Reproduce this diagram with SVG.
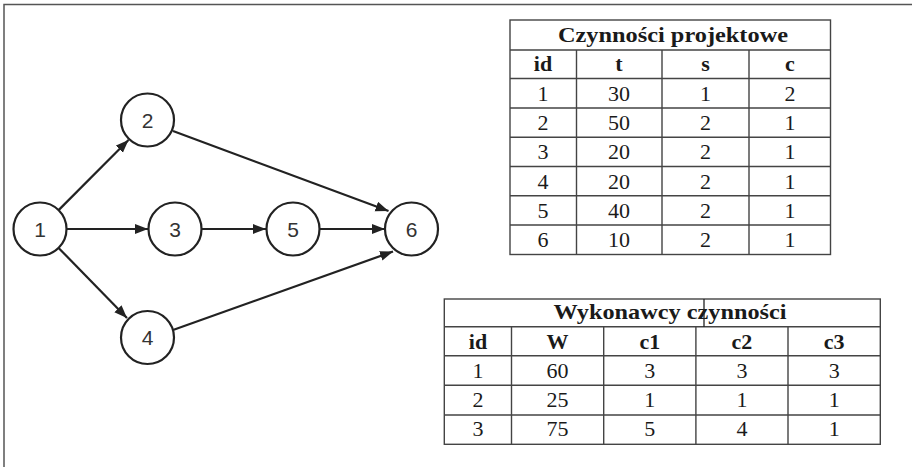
<svg xmlns="http://www.w3.org/2000/svg" width="912" height="467" viewBox="0 0 912 467">
<style>
.frame{fill:none;stroke:#555;stroke-width:1.5}
.node circle{fill:#fff;stroke:#222;stroke-width:2.2}
.node text{font-family:"Liberation Sans",Arial,sans-serif;font-size:21px;fill:#333;text-anchor:middle}
.edge{stroke:#222;stroke-width:2.2;fill:none}
.grid{stroke:#444;stroke-width:1.4;fill:none}
.tt{font-family:"Liberation Serif","Times New Roman",serif;font-size:22px;fill:#1a1a1a;text-anchor:middle}
.b{font-weight:bold}
</style>
<defs>
<marker id="arr" markerUnits="userSpaceOnUse" markerWidth="14" markerHeight="12" refX="13" refY="5" orient="auto">
<path d="M0,0 L13,5 L0,10 z" fill="#222"/>
</marker>
</defs>
<rect width="912" height="467" fill="#fff"/>
<path class="frame" d="M4,467 V4.5 H912"/>

<g id="connectors">
<line class="edge" x1="58.6" y1="210.1" x2="128.5" y2="140" marker-end="url(#arr)"/>
<line class="edge" x1="66.5" y1="229" x2="148" y2="229" marker-end="url(#arr)"/>
<line class="edge" x1="58.6" y1="247.9" x2="127" y2="318" marker-end="url(#arr)"/>
<line class="edge" x1="201.5" y1="229" x2="266" y2="229" marker-end="url(#arr)"/>
<line class="edge" x1="319.5" y1="229" x2="385" y2="229" marker-end="url(#arr)"/>
<line class="edge" x1="173" y1="131" x2="388.5" y2="211" marker-end="url(#arr)"/>
<line class="edge" x1="173" y1="330" x2="393" y2="251.5" marker-end="url(#arr)"/>
</g>

<g id="node1" class="node"><circle cx="40" cy="229" r="26.5"/><text x="40" y="236.5">1</text></g>
<g id="node2" class="node"><circle cx="147.5" cy="120" r="26.5"/><text x="147.5" y="127.5">2</text></g>
<g id="node3" class="node"><circle cx="175" cy="229" r="26.5"/><text x="175" y="236.5">3</text></g>
<g id="node5" class="node"><circle cx="293" cy="229" r="26.5"/><text x="293" y="236.5">5</text></g>
<g id="node6" class="node"><circle cx="411.5" cy="229" r="26.5"/><text x="411.5" y="236.5">6</text></g>
<g id="node4" class="node"><circle cx="147.5" cy="337.5" r="26.5"/><text x="147.5" y="345">4</text></g>

<g id="table1">
<rect class="grid" x="510" y="20" width="320.5" height="234.5"/>
<path class="grid" d="M510,50 H830.5 M510,78.5 H830.5 M510,108 H830.5 M510,137.3 H830.5 M510,166.5 H830.5 M510,195.8 H830.5 M510,225 H830.5 M576.5,50 V254.5 M662,50 V254.5 M749,50 V254.5"/>
<text class="tt b" x="673" y="42" textLength="230" lengthAdjust="spacingAndGlyphs">Czynności projektowe</text>
<text class="tt b" x="543" y="71">id</text><text class="tt b" x="619" y="71">t</text><text class="tt b" x="705.5" y="71">s</text><text class="tt b" x="790" y="71">c</text>
<text class="tt" x="543" y="100.5">1</text><text class="tt" x="619" y="100.5">30</text><text class="tt" x="705.5" y="100.5">1</text><text class="tt" x="790" y="100.5">2</text>
<text class="tt" x="543" y="130">2</text><text class="tt" x="619" y="130">50</text><text class="tt" x="705.5" y="130">2</text><text class="tt" x="790" y="130">1</text>
<text class="tt" x="543" y="159.3">3</text><text class="tt" x="619" y="159.3">20</text><text class="tt" x="705.5" y="159.3">2</text><text class="tt" x="790" y="159.3">1</text>
<text class="tt" x="543" y="188.5">4</text><text class="tt" x="619" y="188.5">20</text><text class="tt" x="705.5" y="188.5">2</text><text class="tt" x="790" y="188.5">1</text>
<text class="tt" x="543" y="217.8">5</text><text class="tt" x="619" y="217.8">40</text><text class="tt" x="705.5" y="217.8">2</text><text class="tt" x="790" y="217.8">1</text>
<text class="tt" x="543" y="247">6</text><text class="tt" x="619" y="247">10</text><text class="tt" x="705.5" y="247">2</text><text class="tt" x="790" y="247">1</text>
</g>

<g id="table2">
<rect class="grid" x="444.3" y="299" width="436" height="145.3"/>
<path class="grid" d="M444.3,326.7 H880.3 M444.3,355.7 H880.3 M444.3,385.3 H880.3 M444.3,415 H880.3 M511.5,326.7 V444.3 M603.7,326.7 V444.3 M695.9,326.7 V444.3 M788,326.7 V444.3"/>
<text class="tt b" x="670" y="319.3" textLength="233" lengthAdjust="spacingAndGlyphs">Wykonawcy czynności</text>
<line x1="704" y1="299" x2="704" y2="327" stroke="#222" stroke-width="1.3"/>
<text class="tt b" x="478" y="348.5">id</text><text class="tt b" x="557.6" y="348.5">W</text><text class="tt b" x="649.8" y="348.5">c1</text><text class="tt b" x="742" y="348.5">c2</text><text class="tt b" x="834.2" y="348.5">c3</text>
<text class="tt" x="478" y="377.8">1</text><text class="tt" x="557.6" y="377.8">60</text><text class="tt" x="649.8" y="377.8">3</text><text class="tt" x="742" y="377.8">3</text><text class="tt" x="834.2" y="377.8">3</text>
<text class="tt" x="478" y="407.2">2</text><text class="tt" x="557.6" y="407.2">25</text><text class="tt" x="649.8" y="407.2">1</text><text class="tt" x="742" y="407.2">1</text><text class="tt" x="834.2" y="407.2">1</text>
<text class="tt" x="478" y="436.2">3</text><text class="tt" x="557.6" y="436.2">75</text><text class="tt" x="649.8" y="436.2">5</text><text class="tt" x="742" y="436.2">4</text><text class="tt" x="834.2" y="436.2">1</text>
</g>
</svg>
